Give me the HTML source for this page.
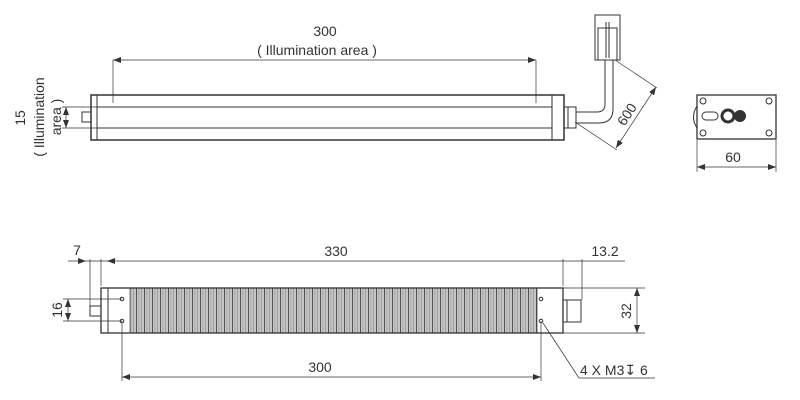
<!DOCTYPE html>
<html><head><style>body{margin:0;background:#fff}svg{display:block}text{font-family:"Liberation Sans",sans-serif;fill:#333}</style></head><body>
<svg width="800" height="400" viewBox="0 0 800 400" xmlns="http://www.w3.org/2000/svg">
<defs>
<marker id="a" markerWidth="8" markerHeight="6" refX="8" refY="3" orient="auto-start-reverse" markerUnits="userSpaceOnUse"><path d="M0,0 L8,3 L0,6z" fill="#333"/></marker>
<pattern id="fin" width="8" height="10" patternUnits="userSpaceOnUse"><rect width="8" height="10" fill="#c4c4c4"/><line x1="0.5" y1="0" x2="0.5" y2="10" stroke="#444" stroke-width="0.9"/><line x1="3" y1="0" x2="3" y2="10" stroke="#999" stroke-width="0.6"/><line x1="5.5" y1="0" x2="5.5" y2="10" stroke="#888" stroke-width="0.6"/></pattern>
</defs>
<g stroke="#333" fill="none" stroke-width="1">
<rect x="91" y="95" width="473" height="45" stroke-width="1.5"/>
<line x1="97" y1="95" x2="97" y2="140"/>
<line x1="97" y1="107" x2="552" y2="107"/>
<line x1="97" y1="128" x2="552" y2="128"/>
<line x1="552" y1="95" x2="552" y2="140"/>
<rect x="82" y="112" width="9" height="10"/>
<line x1="113" y1="60" x2="113" y2="103" stroke-width="0.7"/>
<line x1="536" y1="60" x2="536" y2="103" stroke-width="0.7"/>
<line x1="113" y1="60" x2="536" y2="60" stroke-width="0.7" marker-start="url(#a)" marker-end="url(#a)"/>
<line x1="62" y1="107" x2="97" y2="107" stroke-width="0.7"/>
<line x1="62" y1="128" x2="97" y2="128" stroke-width="0.7"/>
<line x1="66" y1="107" x2="66" y2="128" stroke-width="0.7" marker-start="url(#a)" marker-end="url(#a)"/>
<rect x="564" y="107" width="12" height="21"/>
<line x1="568" y1="107" x2="568" y2="128"/>
<path d="M576,112 L597,112 Q605,112 605,104 L605,60"/>
<path d="M576,123 L599,123 Q613,123 613,109 L613,60"/>
<rect x="595" y="15" width="25" height="45"/>
<rect x="598" y="28" width="19" height="32"/>
<line x1="606" y1="22" x2="606" y2="58"/><line x1="609" y1="22" x2="609" y2="58"/>
<line x1="615" y1="60" x2="657" y2="88" stroke-width="0.7"/>
<line x1="575" y1="122" x2="617" y2="150" stroke-width="0.7"/>
<line x1="656" y1="87" x2="616" y2="148" stroke-width="0.7" marker-start="url(#a)" marker-end="url(#a)"/>
<rect x="697" y="95" width="79" height="44" stroke-width="1.3"/>
<path d="M697,106 Q690,117 697,128" />
<circle cx="703" cy="101" r="3"/><circle cx="769" cy="101" r="3"/><circle cx="703" cy="133" r="3"/><circle cx="769" cy="133" r="3"/>
<rect x="702" y="112" width="16" height="8" rx="4"/>
<circle cx="728" cy="116" r="6" stroke-width="3"/>
<circle cx="740" cy="116" r="4.5" stroke-width="3" fill="#333"/>
<line x1="697" y1="140" x2="697" y2="172" stroke-width="0.7"/>
<line x1="776" y1="140" x2="776" y2="172" stroke-width="0.7"/>
<line x1="697" y1="167" x2="776" y2="167" stroke-width="0.7" marker-start="url(#a)" marker-end="url(#a)"/>
<rect x="130" y="288" width="407" height="45" fill="url(#fin)" stroke="none"/>
<rect x="101" y="288" width="462" height="45" stroke-width="1.3"/>
<line x1="108" y1="288" x2="108" y2="333"/>
<line x1="130" y1="288" x2="130" y2="333" stroke-width="0.7"/>
<line x1="537" y1="288" x2="537" y2="333" stroke-width="0.7"/>
<rect x="90" y="306" width="11" height="10"/>
<rect x="563" y="300" width="18" height="22"/>
<line x1="567" y1="300" x2="567" y2="322"/>
<circle cx="122" cy="299" r="1.8"/><circle cx="122" cy="321" r="1.8"/>
<circle cx="541" cy="299" r="1.8"/><circle cx="541" cy="321" r="1.8"/>
<line x1="68" y1="261" x2="625" y2="261" stroke-width="0.7"/>
<line x1="101" y1="259" x2="101" y2="286" stroke-width="0.7"/>
<line x1="90" y1="259" x2="90" y2="306" stroke-width="0.7"/>
<line x1="90" y1="261" x2="95" y2="261" stroke-width="0.7" marker-end="url(#a)" transform="translate(-9 0)"/>
<line x1="106" y1="261" x2="101" y2="261" stroke-width="0.7" marker-end="url(#a)" transform="translate(6 0)"/>
<line x1="563" y1="259" x2="563" y2="286" stroke-width="0.7"/>
<line x1="582" y1="259" x2="582" y2="300" stroke-width="0.7"/>
<line x1="63" y1="299" x2="122" y2="299" stroke-width="0.7"/>
<line x1="63" y1="321" x2="122" y2="321" stroke-width="0.7"/>
<line x1="68" y1="299" x2="68" y2="321" stroke-width="0.7" marker-start="url(#a)" marker-end="url(#a)"/>
<line x1="563" y1="288" x2="645" y2="288" stroke-width="0.7"/>
<line x1="563" y1="333" x2="645" y2="333" stroke-width="0.7"/>
<line x1="637" y1="288" x2="637" y2="333" stroke-width="0.7" marker-start="url(#a)" marker-end="url(#a)"/>
<line x1="122" y1="321" x2="122" y2="381" stroke-width="0.7"/>
<line x1="541" y1="321" x2="541" y2="381" stroke-width="0.7"/>
<line x1="122" y1="377" x2="541" y2="377" stroke-width="0.7" marker-start="url(#a)" marker-end="url(#a)"/>
<line x1="543" y1="323" x2="579" y2="378" stroke-width="0.7"/>
<line x1="579" y1="378" x2="655" y2="378" stroke-width="0.7"/>
</g>
<g font-size="14">
<text x="325" y="36" text-anchor="middle">300</text>
<text x="317" y="55" text-anchor="middle">( Illumination area )</text>
<text transform="translate(25 118) rotate(-90)" text-anchor="middle">15</text>
<text transform="translate(44 117) rotate(-90)" text-anchor="middle">( Illumination</text>
<text transform="translate(61 117) rotate(-90)" text-anchor="middle">area )</text>
<text transform="translate(631 117) rotate(-57)" text-anchor="middle">600</text>
<text x="733" y="162" text-anchor="middle">60</text>
<text x="77" y="255" text-anchor="middle">7</text>
<text x="336" y="256" text-anchor="middle">330</text>
<text x="605" y="256" text-anchor="middle">13.2</text>
<text transform="translate(62 310) rotate(-90)" text-anchor="middle">16</text>
<text transform="translate(631 311) rotate(-90)" text-anchor="middle">32</text>
<text x="320" y="372" text-anchor="middle">300</text>
<text x="580" y="375">4 X M3↧ 6</text>
</g>
</svg>
</body></html>
